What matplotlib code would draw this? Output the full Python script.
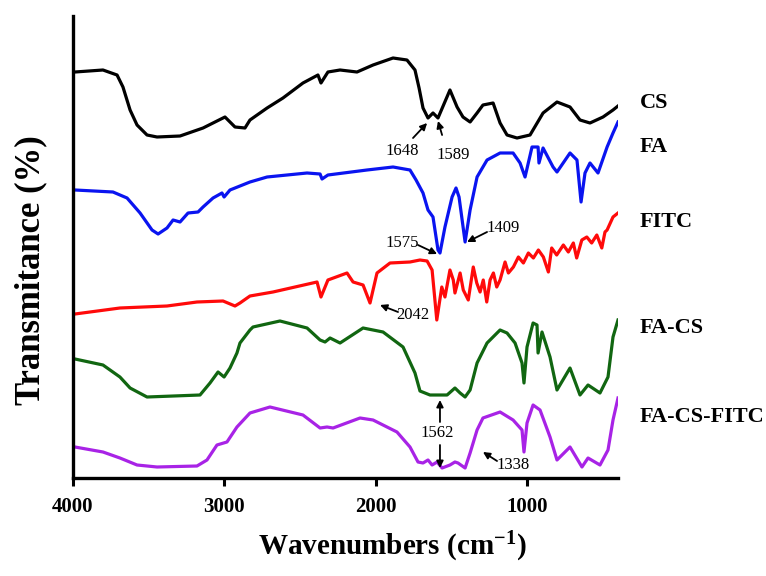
import numpy as np
import matplotlib
matplotlib.use('Agg')
import matplotlib.pyplot as plt

plt.rcParams['font.family'] = ['Liberation Serif', 'DejaVu Serif']
plt.rcParams['mathtext.fontset'] = 'custom'
plt.rcParams['mathtext.rm'] = 'Liberation Serif:bold'
plt.rcParams['mathtext.it'] = 'Liberation Serif:bold'
plt.rcParams['mathtext.bf'] = 'Liberation Serif:bold'

# FTIR spectra (transmittance in arbitrary, offset units)
cs_wn = [3987, 3802, 3709, 3670, 3623, 3577, 3511, 3445, 3293, 3141,
         2996, 2930, 2864, 2831, 2718, 2613, 2481, 2382, 2362, 2316,
         2236, 2124, 2018, 1886, 1794, 1741, 1714, 1688, 1655, 1622,
         1589, 1510, 1463, 1424, 1377, 1331, 1292, 1225, 1179, 1133,
         1067, 981, 895, 803, 717, 651, 585, 499, 433, 400]
cs_t = [406, 408, 403, 391, 368, 353, 343, 341, 342, 350,
        361, 351, 350, 358, 370, 380, 395, 403, 395, 406,
        408, 406, 413, 420, 418, 408, 390, 370, 360, 365,
        360, 388, 371, 361, 356, 365, 373, 375, 355, 343,
        340, 343, 365, 376, 371, 358, 355, 361, 368, 372]

fa_wn = [3987, 3736, 3643, 3557, 3478, 3438, 3379, 3339, 3293, 3240,
         3174, 3141, 3075, 3016, 3002, 2963, 2831, 2718, 2454, 2368,
         2355, 2316, 2058, 1886, 1774, 1734, 1688, 1655, 1622, 1589,
         1576, 1543, 1496, 1470, 1450, 1410, 1377, 1331, 1265, 1179,
         1093, 1047, 1014, 968, 928, 922, 895, 829, 803, 717,
         671, 644, 618, 585, 532, 472, 433, 400]
fa_t = [288, 286, 280, 265, 248, 244, 250, 258, 256, 265,
        266, 271, 280, 285, 281, 288, 296, 301, 305, 304,
        299, 303, 308, 311, 308, 298, 285, 268, 261, 228,
        225, 251, 281, 290, 281, 236, 268, 301, 318, 325,
        325, 315, 301, 331, 331, 315, 330, 311, 306, 325,
        318, 276, 305, 315, 305, 331, 345, 356]

fitc_wn = [3987, 3690, 3379, 3181, 3009, 2930, 2897, 2831, 2679, 2388,
           2362, 2316, 2190, 2150, 2084, 2038, 1992, 1906, 1774, 1708,
           1661, 1628, 1597, 1564, 1543, 1510, 1488, 1477, 1443, 1422,
           1389, 1356, 1333, 1311, 1290, 1267, 1245, 1223, 1201, 1179,
           1146, 1124, 1091, 1058, 1025, 992, 959, 926, 893, 860,
           838, 805, 761, 728, 695, 673, 639, 606, 574, 540,
           507, 486, 472, 433, 400]
fitc_t = [164, 170, 172, 176, 177, 172, 175, 182, 186, 196,
          181, 198, 205, 196, 193, 175, 205, 215, 216, 218,
          217, 208, 158, 191, 181, 208, 198, 185, 205, 188,
          178, 211, 195, 186, 198, 176, 198, 205, 191, 198,
          216, 205, 211, 221, 215, 225, 220, 228, 221, 206,
          230, 223, 233, 226, 235, 220, 238, 241, 235, 243,
          230, 246, 248, 261, 265]

facs_wn = [3987, 3802, 3690, 3623, 3511, 3161, 3095, 3042, 3002, 2963,
           2917, 2897, 2831, 2811, 2633, 2454, 2368, 2335, 2302, 2236,
           2084, 1952, 1820, 1741, 1708, 1642, 1529, 1477, 1443, 1410,
           1377, 1331, 1265, 1199, 1179, 1133, 1080, 1034, 1021, 1001,
           961, 935, 928, 902, 849, 803, 717, 651, 598, 519,
           466, 433, 400]
facs_t = [119, 113, 101, 90, 81, 83, 95, 106, 101, 110,
          125, 135, 148, 151, 157, 150, 138, 136, 140, 135,
          150, 146, 131, 105, 87, 83, 83, 90, 85, 81,
          88, 115, 135, 145, 148, 145, 135, 115, 95, 131,
          155, 153, 125, 146, 121, 88, 110, 83, 93, 85,
          101, 141, 158]

facsf_wn = [3987, 3802, 3690, 3577, 3445, 3181, 3115, 3049, 2983, 2917,
            2831, 2699, 2481, 2368, 2322, 2282, 2104, 2018, 1860, 1774,
            1721, 1688, 1655, 1628, 1595, 1562, 1510, 1477, 1457, 1410,
            1377, 1331, 1292, 1179, 1093, 1034, 1021, 1001, 961, 915,
            849, 803, 717, 638, 598, 519, 466, 433, 400]
facsf_t = [31, 26, 20, 13, 11, 12, 18, 33, 36, 51,
           65, 71, 63, 50, 51, 50, 60, 58, 46, 31,
           16, 15, 18, 13, 16, 10, 13, 16, 15, 10,
           25, 48, 60, 66, 58, 48, 26, 55, 73, 68,
           41, 18, 31, 11, 20, 13, 28, 58, 80]

names = ['CS', 'FA', 'FITC', 'FA-CS', 'FA-CS-FITC']
colors = ['black', '#0a14f0', '#ff0a0a', '#116611', '#a823e6']
label_y = [103, 147, 222, 328, 417]  # pixel rows of the right-hand names

fig = plt.figure(figsize=(7.66, 5.76), dpi=100)
ax = fig.add_axes([73 / 766, 98 / 576, 545 / 766, 462 / 576])

series = [(cs_wn, cs_t), (fa_wn, fa_t), (fitc_wn, fitc_t), (facs_wn, facs_t), (facsf_wn, facsf_t)]
for (wn, t), c in zip(series, colors):
    ax.plot(wn, t, color=c, lw=2.3, solid_joinstyle='round')

ax.set_xlim(4000, 400)
ax.set_ylim(0, 462)
ax.set_xticks([4000, 3000, 2000, 1000])
ax.set_yticks([])
for s in ['top', 'right']:
    ax.spines[s].set_visible(False)
for s in ['left', 'bottom']:
    ax.spines[s].set_linewidth(2.4)
ax.tick_params(axis='x', direction='out', length=6, width=2.2, pad=8)
for lab in ax.get_xticklabels():
    lab.set_fontsize(15)
    lab.set_fontweight('bold')

ax.set_xlabel('Wavenumbers (cm$^{-1}$)', fontsize=21, fontweight='bold')
ax.xaxis.set_label_coords(0.585, -0.112)
ax.set_ylabel('Transmitance (%)', fontsize=25, fontweight='bold')
ax.yaxis.set_label_coords(-0.048, 0.45)

for n, y in zip(names, label_y):
    fig.text(640 / 766, 1 - y / 576, n, fontsize=16, fontweight='bold', ha='left', va='center')

# peak annotations: (text, text pos, arrow tail, arrow head)
notes = [('1648', (1827, 327), (1754, 340), (1661, 355)),
         ('1589', (1490, 323), (1562, 343), (1589, 357)),
         ('1575', (1827, 235), (1721, 233), (1595, 224)),
         ('1409', (1159, 250), (1265, 246), (1397, 236)),
         ('2042', (1754, 163), (1853, 166), (1972, 173)),
         ('1562', (1595, 45), (1576, 56), (1576, 78)),
         (None, None, (1576, 33), (1576, 10)),
         ('1338', (1093, 13), (1199, 17), (1292, 26))]
for txt, tpos, tail, head in notes:
    if txt is not None:
        ax.text(tpos[0], tpos[1], txt, fontsize=12, ha='center', va='center')
    ax.annotate('', xy=head, xytext=tail,
                arrowprops=dict(arrowstyle='-|>', color='black', lw=1.3,
                                mutation_scale=10, shrinkA=0, shrinkB=0))

fig.savefig('out.png', dpi=100)
